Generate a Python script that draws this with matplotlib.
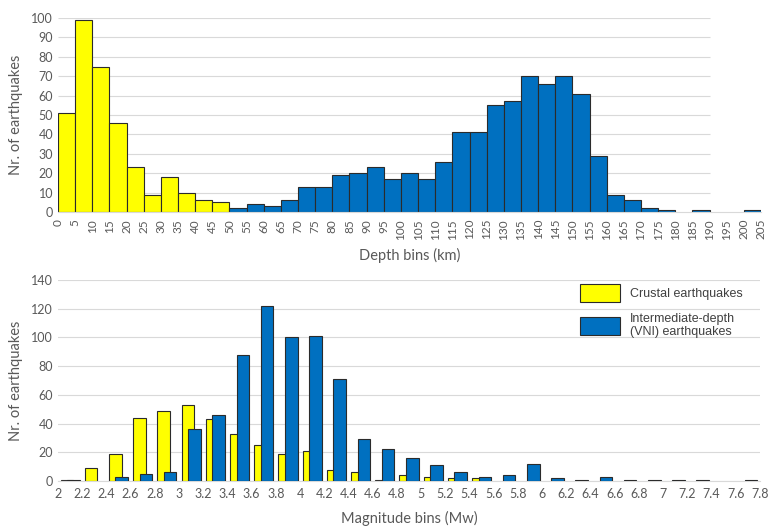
import numpy as np
import matplotlib
matplotlib.use("Agg")
import matplotlib.pyplot as plt

# depth histogram (bin edges every 5 km)
depth_edges = np.arange(0, 206, 5)
crustal_depth = [51, 99, 75, 46, 23, 9, 18, 10, 6, 5]
vni_depth = [2, 4, 3, 6, 13, 13, 19, 20, 23, 17,
             20, 17, 26, 41, 41, 55, 57, 70, 66, 70,
             61, 29, 9, 6, 2, 1, 0, 1, 0, 0, 1]

# magnitude histogram (bin edges every 0.2 Mw)
mag_edges = np.round(np.arange(2.0, 7.81, 0.2), 1)
mag_labels = ['2', '2.2', '2.4', '2.6', '2.8', '3', '3.2', '3.4', '3.6', '3.8',
              '4', '4.2', '4.4', '4.6', '4.8', '5', '5.2', '5.4', '5.6', '5.8',
              '6', '6.2', '6.4', '6.6', '6.8', '7', '7.2', '7.4', '7.6', '7.8']
crustal_mag = [1, 9, 19, 44, 49, 53, 43, 33, 25, 19, 21, 8, 6, 1, 4, 3, 2, 2,
               0, 0, 0, 0, 0, 0, 0, 0, 0, 0, 0]
vni_mag = [1, 0, 3, 5, 6, 36, 46, 88, 122, 100, 101, 71, 29, 22, 16, 11, 6, 3,
           4, 12, 2, 1, 3, 1, 1, 1, 1, 0, 1]

yellow = '#ffff00'
blue = '#0070c0'
edge = '#2b2b2b'
grid_c = '#d9d9d9'
txt_c = '#595959'
font = 'Lato'

fig = plt.figure(figsize=(7.69, 5.31), dpi=100)
ax1 = fig.add_axes([58/769, 1-212/531, (761-58)/769, (212-18)/531])
ax2 = fig.add_axes([58/769, 1-481/531, (760-58)/769, (481-280)/531])

for ax in (ax1, ax2):
    for s in ['top', 'right', 'left']:
        ax.spines[s].set_visible(False)
    ax.spines['bottom'].set_color(grid_c)
    ax.tick_params(length=0, colors=txt_c)

# ---- top: depth ----
cd = np.array(crustal_depth)
vd = np.array(vni_depth)
left_c = depth_edges[:len(cd)]
left_v = depth_edges[len(cd):len(cd)+len(vd)]
ax1.hlines(np.arange(10, 101, 10), 0, 190, color=grid_c, lw=0.8, zorder=0)
ax1.bar(left_c[cd > 0], cd[cd > 0], width=5, align='edge', color=yellow,
        edgecolor=edge, linewidth=0.8, zorder=2)
ax1.bar(left_v[vd > 0], vd[vd > 0], width=5, align='edge', color=blue,
        edgecolor=edge, linewidth=0.8, zorder=2)
ax1.set_xlim(0, 205)
ax1.set_ylim(0, 100)
ax1.set_yticks(np.arange(0, 101, 10))
ax1.set_xticks(depth_edges)
ax1.set_xticklabels([str(d) for d in depth_edges], rotation=90, family=font,
                    fontsize=8.5, color=txt_c)
ax1.set_yticklabels([str(v) for v in range(0, 101, 10)], family=font,
                    fontsize=9, color=txt_c)
ax1.tick_params(axis='x', pad=5)
ax1.set_xlabel('Depth bins (km)', family=font, fontsize=10.5, color=txt_c, labelpad=6)
ax1.set_ylabel('Nr. of earthquakes', family=font, fontsize=10.5, color=txt_c)
ax1.yaxis.set_label_coords(-0.05, 0.5)

# ---- bottom: magnitude ----
cm = np.array(crustal_mag)
vm = np.array(vni_mag)
centers = mag_edges[:-1] + 0.1
w = 0.104
off = 0.027
ax2.grid(axis='y', color=grid_c, lw=0.8, zorder=0)
ax2.set_axisbelow(True)
bc = ax2.bar(centers[cm > 0] - off, cm[cm > 0], width=w, color=yellow,
             edgecolor=edge, linewidth=0.8, zorder=2, label='Crustal earthquakes')
bv = ax2.bar(centers[vm > 0] + off, vm[vm > 0], width=w, color=blue,
             edgecolor=edge, linewidth=0.8, zorder=3,
             label='Intermediate-depth\n(VNI) earthquakes')
ax2.set_xlim(2.0, 7.8)
ax2.set_ylim(0, 140)
ax2.set_yticks(np.arange(0, 141, 20))
ax2.set_yticklabels([str(v) for v in range(0, 141, 20)], family=font,
                    fontsize=9, color=txt_c)
ax2.set_xticks(mag_edges)
ax2.set_xticklabels(mag_labels, family=font, fontsize=9, color=txt_c)
ax2.tick_params(axis='x', pad=5)
ax2.set_xlabel('Magnitude bins (Mw)', family=font, fontsize=10.5, color=txt_c, labelpad=8)
ax2.set_ylabel('Nr. of earthquakes', family=font, fontsize=10.5, color=txt_c)
ax2.yaxis.set_label_coords(-0.05, 0.5)

leg = ax2.legend(handles=[bc, bv], loc='upper left', bbox_to_anchor=(0.728, 1.035),
                 frameon=False, prop={'family': 'Liberation Sans', 'size': 9},
                 handlelength=3.2, handleheight=1.8, labelspacing=0.85,
                 handletextpad=0.8)
for t in leg.get_texts():
    t.set_color('#404040')

fig.savefig('out.png', dpi=100)
